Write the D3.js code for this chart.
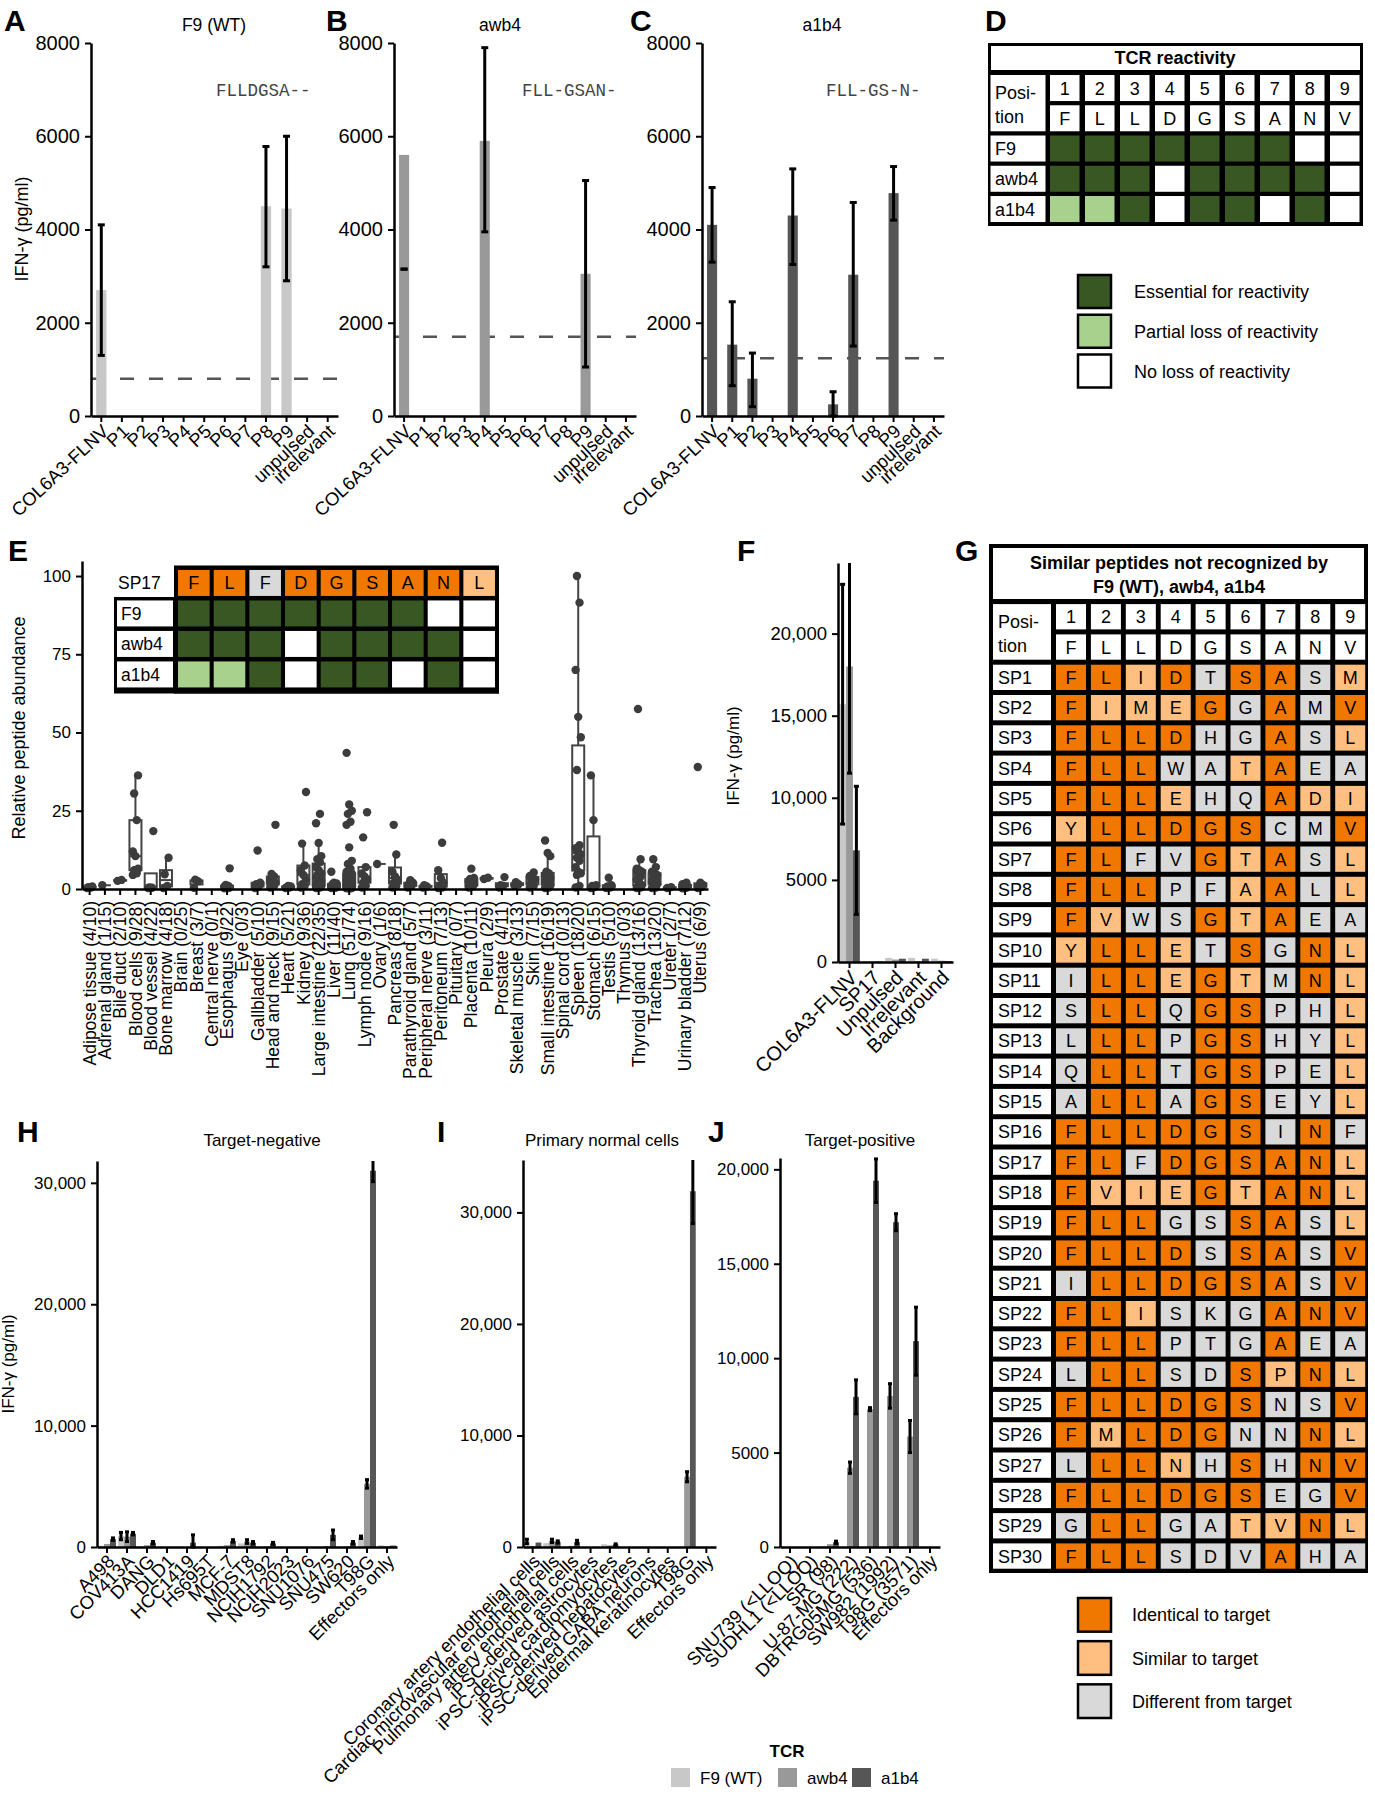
<!DOCTYPE html>
<html>
<head>
<meta charset="utf-8">
<script src="https://cdn.jsdelivr.net/npm/d3@7"></script>
<style>
  body { margin: 0; background: #fff; }
  svg text { font-family: "Liberation Sans", Arial, Helvetica, sans-serif; }
</style>
</head>
<body>
<svg id="fig" width="1375" height="1800"></svg>
<script>
// ---------- A-C : alanine scan ----------
const scanCats = ['COL6A3-FLNV', 'P1', 'P2', 'P3', 'P4', 'P5', 'P6', 'P7', 'P8', 'P9', 'unpulsed', 'irrelevant'];
const f9Scan = [2700, 0, 0, 0, 0, 0, 0, 0, 4500, 4450, 0, 0];
const f9Lo   = [1300, null, null, null, null, null, null, null, 3200, 2900, null, null];
const f9Hi   = [4100, null, null, null, null, null, null, null, 5780, 6000, null, null];
const awb4Scan = [5600, 0, 0, 0, 5900, 0, 0, 0, 0, 3050, 0, 0];
const awb4Lo   = [3150, null, null, null, 3950, null, null, null, null, 1050, null, null];
const awb4Hi   = [3150, null, null, null, 7900, null, null, null, null, 5050, null, null];
const a1b4Scan = [4100, 1530, 800, 0, 4300, 0, 250, 3030, 0, 4780, 0, 0];
const a1b4Lo   = [3300, 650, 200, null, 3250, null, 0, 1500, null, 4200, null, null];
const a1b4Hi   = [4900, 2450, 1350, null, 5300, null, 520, 4580, null, 5350, null, null];
const scanCutoff = [800, 1700, 1240];
const scanMotif = ['FLLDGSA--', 'FLL-GSAN-', 'FLL-GS-N-'];
const scanTicks = [0, 2000, 4000, 6000, 8000];

// ---------- D : TCR reactivity ----------
const positions = ['1', '2', '3', '4', '5', '6', '7', '8', '9'];
const targetSeq = ['F', 'L', 'L', 'D', 'G', 'S', 'A', 'N', 'V'];
const tcrNames = ['F9', 'awb4', 'a1b4'];
const reactF9   = ['E', 'E', 'E', 'E', 'E', 'E', 'E', 'N', 'N'];
const reactAwb4 = ['E', 'E', 'E', 'N', 'E', 'E', 'E', 'E', 'N'];
const reactA1b4 = ['P', 'P', 'E', 'N', 'E', 'E', 'N', 'E', 'N'];
const reactLegend = ['Essential for reactivity', 'Partial loss of reactivity', 'No loss of reactivity'];
const reactColor = { E: '#385723', P: '#a9d18e', N: '#ffffff' };

// ---------- E : peptide abundance per tissue ----------
const tissues = ['Adipose tissue (4/10)', 'Adrenal gland (1/15)', 'Bile duct (2/10)', 'Blood cells (9/28)',
  'Blood vessel (4/22)', 'Bone marrow (4/18)', 'Brain (0/25)', 'Breast (3/7)', 'Central nerve (0/1)',
  'Esophagus (9/22)', 'Eye (0/3)', 'Gallbladder (5/10)', 'Head and neck (9/15)', 'Heart (5/21)',
  'Kidney (9/36)', 'Large intestine (22/35)', 'Liver (11/40)', 'Lung (51/74)', 'Lymph node (9/16)',
  'Ovary (1/6)', 'Pancreas (8/18)', 'Parathyroid gland (5/7)', 'Peripheral nerve (3/11)',
  'Peritoneum (7/13)', 'Pituitary (0/7)', 'Placenta (10/11)', 'Pleura (2/9)', 'Prostate (4/11)',
  'Skeletal muscle (3/13)', 'Skin (7/15)', 'Small intestine (16/19)', 'Spinal cord (0/13)',
  'Spleen (18/20)', 'Stomach (6/15)', 'Testis (5/10)', 'Thymus (0/3)', 'Thyroid gland (13/16)',
  'Trachea (13/20)', 'Ureter (2/7)', 'Urinary bladder (7/12)', 'Uterus (6/9)'];
const tissueAbund = [
  [0.3, 0.5, 0.6, 0.8],
  [1.2],
  [2.6, 2.9],
  [4.5, 5, 6, 6.5, 10.5, 12, 22, 30.5, 36.3],
  [0.3, 0.4, 0.5, 18.5],
  [0.3, 1, 4.7, 10],
  [],
  [0.4, 2.5, 3],
  [],
  [0.2, 0.3, 0.4, 0.5, 0.6, 0.8, 1, 1.3, 6.6],
  [],
  [0.3, 0.8, 1.5, 2, 12.3],
  [0.5, 1, 1.5, 2, 2.5, 3, 4, 4.8, 20.5],
  [0.3, 0.5, 0.6, 0.8, 1.0],
  [0.5, 1, 1.5, 3, 4.5, 6, 7.5, 14.5, 31],
  [0.3, 0.5, 0.7, 0.9, 1.0, 1.2, 1.5, 2, 2.5, 3, 3.5, 4, 4.5, 5, 6, 7, 8.5, 9.5, 10.5, 14.7, 21, 24],
  [0.3, 0.4, 0.5, 0.6, 0.8, 1, 1.2, 1.5, 1.8, 2, 5.5],
  [0.2, 0.2, 0.3, 0.3, 0.4, 0.4, 0.5, 0.5, 0.6, 0.6, 0.7, 0.8, 0.9, 1.0, 1.0, 1.1, 1.2, 1.3, 1.5, 1.6,
   1.8, 2.0, 2.0, 2.2, 2.4, 2.6, 2.8, 3.0, 3.0, 3.2, 3.4, 3.6, 3.8, 4.0, 4.2, 4.4, 4.6, 4.8, 5.0, 5.2,
   5.5, 6.5, 8.0, 9.0, 13.3, 20.5, 21.5, 24, 25, 27, 43.5],
  [0.5, 1, 2, 3, 4, 5, 7, 16.5, 24.5],
  [8],
  [0.5, 1, 2, 3, 4, 5.5, 11, 20.5],
  [0.5, 1, 1.5, 2, 2.8],
  [0.5, 0.8, 1.2],
  [0.3, 0.5, 1, 2, 3.5, 6, 14.8],
  [],
  [0.5, 0.8, 1, 1.5, 2, 2.5, 3, 3.2, 3.5, 6.5],
  [3.2, 3.6],
  [0.5, 1, 1.2, 3.8],
  [1, 1.5, 2.2],
  [0.5, 1, 2, 3, 3.5, 4.2, 5.3],
  [0.3, 0.5, 0.8, 1, 1.5, 2, 2.5, 3, 3.5, 4, 4.5, 5, 5.5, 10.5, 11.5, 15.5],
  [],
  [0.5, 1, 4.5, 5, 5.5, 7, 9, 10, 11, 12, 13, 14, 38, 48.5, 55, 70, 91.5, 100],
  [0.3, 0.6, 1, 1.2, 22, 36.3],
  [0.3, 0.5, 0.8, 1.2, 3.6],
  [],
  [0.3, 0.5, 0.8, 1.2, 2, 3, 4, 5, 5.5, 6, 6.5, 9.5, 57.5],
  [0.3, 0.5, 1, 1.5, 2, 2.5, 3, 4, 4.5, 5, 5.5, 7, 9.5],
  [0.3, 0.6],
  [0.2, 0.4, 0.6, 0.8, 1, 1.5, 2],
  [0.3, 0.6, 1, 1.3, 2, 39]
];
const abundTicks = [0, 25, 50, 75, 100];
const sp17Seq   = ['F', 'L', 'F', 'D', 'G', 'S', 'A', 'N', 'L'];
const sp17Class = ['I', 'I', 'D', 'I', 'I', 'I', 'I', 'I', 'S'];

// ---------- F : SP17 recognition ----------
const fCats = ['COL6A3-FLNV', 'SP17', 'Unpulsed', 'Irrelevant', 'Background'];
const fF9   = [15700, 30, 250, 250, 200];
const fAwb4 = [18000, 30, 150, 60, 80];
const fA1b4 = [6800, 30, 200, 200, 60];
const fF9Sd   = [7300, 0, 0, 0, 0];
const fAwb4Sd = [6500, 0, 0, 0, 0];
const fA1b4Sd = [3900, 0, 0, 0, 0];
const fTicks = [0, 5000, 10000, 15000, 20000];

// ---------- G : similar peptides ----------
const spSeq = ['FLIDTSASM', 'FIMEGGAMV', 'FLLDHGASL', 'FLLWATAEA', 'FLLEHQADI', 'YLLDGSCMV',
  'FLFVGTASL', 'FLLPFAALL', 'FVWSGTAEA', 'YLLETSGNL', 'ILLEGTMNL', 'SLLQGSPHL', 'LLLPGSHYL',
  'QLLTGSPEL', 'ALLAGSEYL', 'FLLDGSINF', 'FLFDGSANL', 'FVIEGTANL', 'FLLGSSASL', 'FLLDSSASV',
  'ILLDGSASV', 'FLISKGANV', 'FLLPTGAEA', 'LLLSDSPNL', 'FLLDGSNSV', 'FMLDGNNNL', 'LLLNHSHNV',
  'FLLDGSEGV', 'GLLGATVNL', 'FLLSDVAHA'];
const spClass = ['IISIDIIDS', 'ISSSIDIDI', 'IIIIDDIDS', 'IIIDDSIDD', 'IIISDDISS', 'SIIIIIDDI',
  'IIDDISIDS', 'IIIDDSIDS', 'ISDDISIDD', 'SIISDIDIS', 'DIISISDIS', 'DIIDIIDDS', 'DIIDIIDDS',
  'DIIDIIDDS', 'DIIDIIDDS', 'IIIIIIDID', 'IIDIIIIIS', 'ISSSISIIS', 'IIIDDIIDS', 'IIIIDIIDI',
  'DIIIIIIDI', 'IISDDDIII', 'IIIDDDIDD', 'DIIDDISIS', 'IIIIIIDDI', 'ISIIIDDIS', 'DIISDIDII',
  'IIIIIIDDI', 'DIIDDSSIS', 'IIIDDDIDD'];
const simLegend = ['Identical to target', 'Similar to target', 'Different from target'];
const simColor = { I: '#f07800', S: '#ffbf80', D: '#d9d9d9' };

// ---------- H : target-negative lines ----------
const hCats = ['A498', 'COV413A', 'DANG', 'DLD1', 'HCC1419', 'Hs695T', 'MCF-7', 'MDST8', 'NCIH1792',
  'NCIH2023', 'SNU1076', 'SNU475', 'SW620', 'T98G', 'Effectors only'];
const hF9   = [100, 900, 60, 0, 0, 0, 100, 300, 0, 0, 0, 0, 0, 800, 150];
const hAwb4 = [250, 850, 150, 0, 0, 0, 150, 450, 50, 0, 0, 80, 50, 5200, 80];
const hA1b4 = [650, 1100, 350, 0, 350, 0, 500, 350, 300, 0, 0, 1000, 350, 31000, 120];
const hF9Sd   = [0, 300, 0, 0, 0, 0, 0, 0, 0, 0, 0, 0, 0, 100, 0];
const hAwb4Sd = [0, 400, 0, 0, 0, 0, 0, 150, 0, 0, 0, 0, 0, 350, 0];
const hA1b4Sd = [100, 100, 100, 0, 650, 0, 100, 100, 80, 0, 0, 400, 100, 900, 0];
const hTicks = [0, 10000, 20000, 30000];

// ---------- I : primary normal cells ----------
const iCats = ['Coronary artery endothelial cells', 'Cardiac microvascular endothelial cells',
  'Pulmonary artery endothelial cells', 'iPSC-derived astrocytes', 'iPSC-derived cardiomyocytes',
  'iPSC-derived hepatocytes', 'iPSC-derived GABA neurons', 'Epidermal keratinocytes', 'T98G', 'Effectors only'];
const iF9   = [500, 350, 50, 0, 250, 0, 0, 0, 0, 0];
const iAwb4 = [100, 550, 100, 0, 150, 0, 0, 0, 6300, 0];
const iA1b4 = [400, 450, 450, 0, 200, 0, 0, 0, 31900, 0];
const iF9Sd   = [200, 0, 0, 0, 0, 0, 0, 0, 0, 0];
const iAwb4Sd = [0, 150, 0, 0, 0, 0, 0, 0, 450, 0];
const iA1b4Sd = [0, 100, 150, 0, 80, 0, 0, 0, 2900, 0];

// ---------- J : target-positive lines ----------
const jCats = ['SNU739 (<LLOQ)', 'SUDHL1 (<LLOQ)', 'SR (98)', 'U-87-MG (222)', 'DBTRG05MG (536)',
  'SW982 (1992)', 'T98G (3571)', 'Effectors only'];
const jF9   = [0, 0, 50, 0, 0, 0, 0, 0];
const jAwb4 = [0, 0, 150, 4200, 7300, 8000, 5850, 0];
const jA1b4 = [0, 0, 250, 7950, 19400, 17200, 10900, 0];
const jF9Sd   = [0, 0, 0, 0, 0, 0, 0, 0];
const jAwb4Sd = [0, 0, 0, 300, 80, 650, 850, 0];
const jA1b4Sd = [0, 0, 60, 900, 1150, 450, 1800, 0];
const jTicks = [0, 5000, 10000, 15000, 20000];

const tcrLegend = ['F9 (WT)', 'awb4', 'a1b4'];
const tcrColor = ['#c8c8c8', '#999999', '#565656'];

// =====================================================
const svg = d3.select('#fig');
const fmtNum = d => d >= 10000 ? d3.format(',')(d) : String(d);

function letter(t, x, y) {
  svg.append('text').attr('x', x).attr('y', y).attr('font-size', 30).attr('font-weight', 'bold').text(t);
}
function label(t, x, y, fs, o = {}) {
  const el = svg.append('text').attr('x', x).attr('y', y).attr('font-size', fs)
    .attr('text-anchor', o.anchor || 'middle').text(t);
  if (o.rot) el.attr('transform', `rotate(${o.rot},${x},${y})`);
  if (o.bold) el.attr('font-weight', 'bold');
  if (o.family) el.style('font-family', o.family);
  if (o.fill) el.attr('fill', o.fill);
  return el;
}
function styleAxis(sel, fs) {
  sel.select('.domain').attr('stroke', '#000').attr('stroke-width', 2.5);
  sel.selectAll('.tick line').attr('stroke', '#000').attr('stroke-width', 2);
  sel.selectAll('.tick text').attr('font-size', fs).attr('fill', '#000');
}
const withErr = (vals, sd) => ({
  lo: vals.map((v, i) => sd[i] ? Math.max(0, v - sd[i]) : null),
  hi: vals.map((v, i) => sd[i] ? v + sd[i] : null)
});

function barChart(o) {
  const g = svg.append('g');
  const x = d3.scaleBand().domain(o.cats).range([o.x0, o.x1]);
  const y = d3.scaleLinear().domain([0, o.top]).range([o.y0, o.yTop]);
  const sub = d3.scaleBand().domain(d3.range(o.series.length)).range([0, x.bandwidth()]).paddingOuter(o.outer);
  if (o.cutoff != null) {
    g.append('line').attr('x1', o.x0).attr('x2', o.x1).attr('y1', y(o.cutoff)).attr('y2', y(o.cutoff))
      .attr('stroke', '#555').attr('stroke-width', 2.5).attr('stroke-dasharray', '14,15');
  }
  o.series.forEach((s, k) => {
    const cx = i => x(o.cats[i]) + sub(k) + sub.bandwidth() / 2;
    g.append('g').selectAll('rect').data(s.vals).join('rect')
      .attr('x', (d, i) => x(o.cats[i]) + sub(k)).attr('width', sub.bandwidth())
      .attr('y', d => y(d)).attr('height', d => y(0) - y(d)).attr('fill', s.color);
    const err = s.vals.map((d, i) => ({ i, lo: s.lo[i], hi: s.hi[i] })).filter(e => e.lo != null);
    const eg = g.append('g').attr('stroke', '#000').attr('stroke-width', o.errW);
    eg.selectAll('line.v').data(err).join('line').attr('class', 'v')
      .attr('x1', e => cx(e.i)).attr('x2', e => cx(e.i))
      .attr('y1', e => y(e.lo)).attr('y2', e => y(Math.min(e.hi, o.top)));
    eg.selectAll('line.l').data(err).join('line').attr('class', 'l')
      .attr('x1', e => cx(e.i) - o.cap).attr('x2', e => cx(e.i) + o.cap)
      .attr('y1', e => y(e.lo)).attr('y2', e => y(e.lo));
    eg.selectAll('line.h').data(err.filter(e => e.hi <= o.top)).join('line').attr('class', 'h')
      .attr('x1', e => cx(e.i) - o.cap).attr('x2', e => cx(e.i) + o.cap)
      .attr('y1', e => y(e.hi)).attr('y2', e => y(e.hi));
  });
  const ya = g.append('g').attr('transform', `translate(${o.x0},0)`)
    .call(d3.axisLeft(y).tickValues(o.ticks).tickFormat(fmtNum).tickSize(6).tickSizeOuter(0).tickPadding(5));
  styleAxis(ya, o.tickFs);
  const xa = g.append('g').attr('transform', `translate(0,${o.y0})`)
    .call(d3.axisBottom(x).tickSize(6).tickSizeOuter(0));
  styleAxis(xa, o.labelFs);
  xa.selectAll('.tick text').attr('x', 0).attr('y', 0).attr('dy', '0.35em').attr('text-anchor', 'end')
    .attr('transform', `translate(${o.ldx},${o.ldy}) rotate(${o.angle})`);
  if (o.title) label(o.title, o.titleX, o.titleY, o.titleFs);
  return { x, y };
}

// ---------- A, B, C ----------
const scanPanels = [
  { vals: f9Scan, lo: f9Lo, hi: f9Hi, color: tcrColor[0], x0: 91, x1: 338, title: 'F9 (WT)', tx: 214, motifX: 216, L: 'A', lx: 4 },
  { vals: awb4Scan, lo: awb4Lo, hi: awb4Hi, color: tcrColor[1], x0: 394, x1: 636, title: 'awb4', tx: 500, motifX: 522, L: 'B', lx: 326 },
  { vals: a1b4Scan, lo: a1b4Lo, hi: a1b4Hi, color: tcrColor[2], x0: 702, x1: 944, title: 'a1b4', tx: 822, motifX: 826, L: 'C', lx: 630 }
];
scanPanels.forEach((p, k) => {
  barChart({
    cats: scanCats, x0: p.x0, x1: p.x1, y0: 416, yTop: 43, top: 8000, ticks: scanTicks,
    series: [{ vals: p.vals, lo: p.lo, hi: p.hi, color: p.color }], outer: 0.5,
    cutoff: scanCutoff[k], errW: 3, cap: 3.5, tickFs: 20, labelFs: 18.5,
    ldx: 4, ldy: 12, angle: -43, title: p.title, titleX: p.tx, titleY: 31, titleFs: 17.5
  });
  label(scanMotif[k], p.motifX, 96, 17.5, { anchor: 'start', family: '"Liberation Mono", "Courier New", monospace', fill: '#444' });
  letter(p.L, p.lx, 31);
});
label('IFN-γ (pg/ml)', 28, 229, 18, { rot: -90 });

// ---------- D ----------
letter('D', 985, 31);
{
  const g = svg.append('g');
  const col = d3.scaleBand().domain(d3.range(9)).range([1047.25, 1362.25]).paddingInner(0.157).paddingOuter(0.0786);
  const row = d3.scaleBand().domain(d3.range(5)).range([72.9, 224.15]).paddingInner(0.14).paddingOuter(0.07);
  g.append('rect').attr('x', 988).attr('y', 43).attr('width', 375).attr('height', 183).attr('fill', '#000');
  g.append('rect').attr('x', 991).attr('y', 46).attr('width', 369).attr('height', 24).attr('fill', '#fff');
  label('TCR reactivity', 1175, 64, 18, { bold: true });
  g.append('rect').attr('x', 990.5).attr('y', row(0)).attr('width', 55).attr('height', row(1) + row.bandwidth() - row(0)).attr('fill', '#fff');
  label('Posi-', 995, 99, 18, { anchor: 'start' });
  label('tion', 995, 123, 18, { anchor: 'start' });
  const react = [reactF9, reactAwb4, reactA1b4];
  tcrNames.forEach((n, r) => {
    g.append('rect').attr('x', 990.5).attr('y', row(r + 2)).attr('width', 55).attr('height', row.bandwidth()).attr('fill', '#fff');
    label(n, 995, row(r + 2) + row.bandwidth() / 2 + 6.5, 18, { anchor: 'start' });
  });
  const cells = [];
  positions.forEach((p, i) => {
    cells.push({ c: i, r: 0, fill: '#fff', t: p });
    cells.push({ c: i, r: 1, fill: '#fff', t: targetSeq[i] });
    react.forEach((arr, r) => cells.push({ c: i, r: r + 2, fill: reactColor[arr[i]], t: '' }));
  });
  g.selectAll('rect.cell').data(cells).join('rect').attr('class', 'cell')
    .attr('x', d => col(d.c)).attr('y', d => row(d.r)).attr('width', col.bandwidth()).attr('height', row.bandwidth())
    .attr('fill', d => d.fill);
  g.selectAll('text.cell').data(cells.filter(d => d.t)).join('text').attr('class', 'cell')
    .attr('x', d => col(d.c) + col.bandwidth() / 2).attr('y', d => row(d.r) + row.bandwidth() / 2 + 6.5)
    .attr('text-anchor', 'middle').attr('font-size', 18).text(d => d.t);
  const lg = d3.scaleBand().domain(d3.range(3)).range([275, 387.5]).paddingInner(0.17);
  reactLegend.forEach((t, i) => {
    g.append('rect').attr('x', 1078).attr('y', lg(i)).attr('width', 33).attr('height', lg.bandwidth())
      .attr('fill', reactColor[['E', 'P', 'N'][i]]).attr('stroke', '#000').attr('stroke-width', 2.5);
    label(t, 1134, lg(i) + lg.bandwidth() / 2 + 6.5, 18, { anchor: 'start' });
  });
}

// ---------- E ----------
letter('E', 8, 561);
{
  const g = svg.append('g');
  const x = d3.scaleBand().domain(tissues).range([82, 708]);
  const y = d3.scaleLinear().domain([0, 104.8]).range([889, 561]);
  const jit = j => ((j * 3) % 5 - 2) * 1.3;
  tissueAbund.forEach((vals, i) => {
    if (!vals.length) return;
    const s = vals.slice().sort(d3.ascending);
    const q1 = d3.quantile(s, 0.25), md = d3.quantile(s, 0.5), q3 = d3.quantile(s, 0.75);
    const iqr = q3 - q1;
    const wLo = d3.min(s.filter(v => v >= q1 - 1.5 * iqr));
    const wHi = d3.max(s.filter(v => v <= q3 + 1.5 * iqr));
    const cx = x(tissues[i]) + x.bandwidth() / 2;
    g.append('line').attr('x1', cx).attr('x2', cx).attr('y1', y(wLo)).attr('y2', y(wHi))
      .attr('stroke', '#444').attr('stroke-width', 2);
    g.append('rect').attr('x', cx - 6).attr('width', 12).attr('y', y(q3)).attr('height', y(q1) - y(q3))
      .attr('fill', '#fff').attr('stroke', '#444').attr('stroke-width', 2);
    g.append('line').attr('x1', cx - 6).attr('x2', cx + 6).attr('y1', y(md)).attr('y2', y(md))
      .attr('stroke', '#444').attr('stroke-width', 2);
    g.append('g').selectAll('circle').data(s).join('circle')
      .attr('cx', (d, j) => cx + jit(j)).attr('cy', d => y(d)).attr('r', 4.2).attr('fill', '#3c3c3c');
  });
  const ya = g.append('g').attr('transform', 'translate(82,0)')
    .call(d3.axisLeft(y).tickValues(abundTicks).tickSize(6).tickSizeOuter(0).tickPadding(5));
  styleAxis(ya, 17);
  const xa = g.append('g').attr('transform', 'translate(0,889)')
    .call(d3.axisBottom(x).tickSize(6).tickSizeOuter(0));
  styleAxis(xa, 17.5);
  xa.selectAll('.tick text').attr('x', 0).attr('y', 0).attr('dy', '0.35em').attr('text-anchor', 'end')
    .attr('transform', 'translate(0,12) rotate(-90)');
  label('Relative peptide abundance', 25, 728, 18, { rot: -90 });

  // inset table
  const col = d3.scaleBand().domain(d3.range(9)).range([176, 497]).paddingInner(0.114).paddingOuter(0.057);
  const row = d3.scaleBand().domain(d3.range(4)).range([567.7, 689.7]).paddingInner(0.1475).paddingOuter(0.074);
  g.append('rect').attr('x', 174).attr('y', 565.5).attr('width', 325).attr('height', 128).attr('fill', '#000');
  g.append('rect').attr('x', 114).attr('y', 597).attr('width', 385).attr('height', 96.5).attr('fill', '#000');
  label('SP17', 118, row(0) + row.bandwidth() / 2 + 6.5, 17.5, { anchor: 'start' });
  const react = [reactF9, reactAwb4, reactA1b4];
  tcrNames.forEach((n, r) => {
    g.append('rect').attr('x', 117).attr('y', row(r + 1)).attr('width', 56).attr('height', row.bandwidth()).attr('fill', '#fff');
    label(n, 121, row(r + 1) + row.bandwidth() / 2 + 6.5, 17.5, { anchor: 'start' });
  });
  const cells = [];
  sp17Seq.forEach((a, i) => {
    cells.push({ c: i, r: 0, fill: simColor[sp17Class[i]], t: a });
    react.forEach((arr, r) => cells.push({ c: i, r: r + 1, fill: reactColor[arr[i]], t: '' }));
  });
  g.selectAll('rect.cell').data(cells).join('rect').attr('class', 'cell')
    .attr('x', d => col(d.c)).attr('y', d => row(d.r)).attr('width', col.bandwidth()).attr('height', row.bandwidth())
    .attr('fill', d => d.fill);
  g.selectAll('text.cell').data(cells.filter(d => d.t)).join('text').attr('class', 'cell')
    .attr('x', d => col(d.c) + col.bandwidth() / 2).attr('y', d => row(d.r) + row.bandwidth() / 2 + 6.5)
    .attr('text-anchor', 'middle').attr('font-size', 18).text(d => d.t);
}

// ---------- F ----------
letter('F', 737, 561);
{
  const e0 = withErr(fF9, fF9Sd), e1 = withErr(fAwb4, fAwb4Sd), e2 = withErr(fA1b4, fA1b4Sd);
  barChart({
    cats: fCats, x0: 838, x1: 953, y0: 962, yTop: 563, top: 24300, ticks: fTicks,
    series: [
      { vals: fF9, lo: e0.lo, hi: e0.hi, color: tcrColor[0] },
      { vals: fAwb4, lo: e1.lo, hi: e1.hi, color: tcrColor[1] },
      { vals: fA1b4, lo: e2.lo, hi: e2.hi, color: tcrColor[2] }
    ], outer: 0.1667, errW: 3, cap: 2.5, tickFs: 18.5, labelFs: 20, ldx: 4, ldy: 12, angle: -45
  });
  label('IFN-γ (pg/ml)', 739, 756, 17, { rot: -90 });
}

// ---------- G ----------
letter('G', 955, 561);
{
  const g = svg.append('g');
  const col = d3.scaleBand().domain(d3.range(9)).range([1053.56, 1367.66]).paddingInner(0.14).paddingOuter(0.07);
  const row = d3.scaleBand().domain(d3.range(32)).range([601.6, 1571.2]).paddingInner(0.165).paddingOuter(0.0825);
  g.append('rect').attr('x', 989).attr('y', 544).attr('width', 379).attr('height', 1029).attr('fill', '#000');
  g.append('rect').attr('x', 993).attr('y', 548).attr('width', 371).attr('height', 51).attr('fill', '#fff');
  label('Similar peptides not recognized by', 1179, 569, 18, { bold: true });
  label('F9 (WT), awb4, a1b4', 1179, 593, 18, { bold: true });
  g.append('rect').attr('x', 993).attr('y', row(0)).attr('width', 58).attr('height', row(1) + row.bandwidth() - row(0)).attr('fill', '#fff');
  label('Posi-', 998, 628, 18, { anchor: 'start' });
  label('tion', 998, 652, 18, { anchor: 'start' });
  spSeq.forEach((s, k) => {
    g.append('rect').attr('x', 993).attr('y', row(k + 2)).attr('width', 58).attr('height', row.bandwidth()).attr('fill', '#fff');
    label('SP' + (k + 1), 998, row(k + 2) + row.bandwidth() / 2 + 6.5, 18, { anchor: 'start' });
  });
  const cells = [];
  positions.forEach((p, i) => {
    cells.push({ c: i, r: 0, fill: '#fff', t: p });
    cells.push({ c: i, r: 1, fill: '#fff', t: targetSeq[i] });
  });
  spSeq.forEach((s, k) => s.split('').forEach((a, i) =>
    cells.push({ c: i, r: k + 2, fill: simColor[spClass[k][i]], t: a })));
  g.selectAll('rect.cell').data(cells).join('rect').attr('class', 'cell')
    .attr('x', d => col(d.c)).attr('y', d => row(d.r)).attr('width', col.bandwidth()).attr('height', row.bandwidth())
    .attr('fill', d => d.fill);
  g.selectAll('text.cell').data(cells).join('text').attr('class', 'cell')
    .attr('x', d => col(d.c) + col.bandwidth() / 2).attr('y', d => row(d.r) + row.bandwidth() / 2 + 6.5)
    .attr('text-anchor', 'middle').attr('font-size', 18).text(d => d.t);
  const lg = d3.scaleBand().domain(d3.range(3)).range([1598, 1718]).paddingInner(0.22);
  simLegend.forEach((t, i) => {
    g.append('rect').attr('x', 1078).attr('y', lg(i)).attr('width', 33).attr('height', lg.bandwidth())
      .attr('fill', simColor[['I', 'S', 'D'][i]]).attr('stroke', '#000').attr('stroke-width', 2.5);
    label(t, 1132, lg(i) + lg.bandwidth() / 2 + 6.5, 18, { anchor: 'start' });
  });
}

// ---------- H, I, J ----------
function groupSeries(a, b, c, sa, sb, sc) {
  const e = [withErr(a, sa), withErr(b, sb), withErr(c, sc)];
  return [a, b, c].map((v, k) => ({ vals: v, lo: e[k].lo, hi: e[k].hi, color: tcrColor[k] }));
}
letter('H', 17, 1142);
barChart({
  cats: hCats, x0: 97, x1: 397, y0: 1547, yTop: 1161, top: 31800, ticks: hTicks,
  series: groupSeries(hF9, hAwb4, hA1b4, hF9Sd, hAwb4Sd, hA1b4Sd), outer: 0.1667,
  errW: 3, cap: 2, tickFs: 17, labelFs: 18.5, ldx: 4, ldy: 11, angle: -45,
  title: 'Target-negative', titleX: 262, titleY: 1146, titleFs: 17
});
label('IFN-γ (pg/ml)', 14, 1364, 17, { rot: -90 });

letter('I', 437, 1142);
barChart({
  cats: iCats, x0: 523, x1: 716, y0: 1547, yTop: 1160, top: 34700, ticks: hTicks,
  series: groupSeries(iF9, iAwb4, iA1b4, iF9Sd, iAwb4Sd, iA1b4Sd), outer: 0.1667,
  errW: 3, cap: 2, tickFs: 17, labelFs: 18.5, ldx: 4, ldy: 11, angle: -44,
  title: 'Primary normal cells', titleX: 602, titleY: 1146, titleFs: 17
});

letter('J', 708, 1142);
barChart({
  cats: jCats, x0: 780, x1: 940, y0: 1547, yTop: 1158, top: 20600, ticks: jTicks,
  series: groupSeries(jF9, jAwb4, jA1b4, jF9Sd, jAwb4Sd, jA1b4Sd), outer: 0.1667,
  errW: 3, cap: 2, tickFs: 17, labelFs: 18.5, ldx: 4, ldy: 11, angle: -45,
  title: 'Target-positive', titleX: 860, titleY: 1146, titleFs: 17
});

// ---------- TCR legend ----------
label('TCR', 787, 1757, 17, { bold: true });
const legX = [671, 778, 852];
tcrLegend.forEach((t, k) => {
  svg.append('rect').attr('x', legX[k]).attr('y', 1768).attr('width', 19).attr('height', 19).attr('fill', tcrColor[k]);
  label(t, legX[k] + 29, 1784, 17, { anchor: 'start' });
});
</script>
</body>
</html>
